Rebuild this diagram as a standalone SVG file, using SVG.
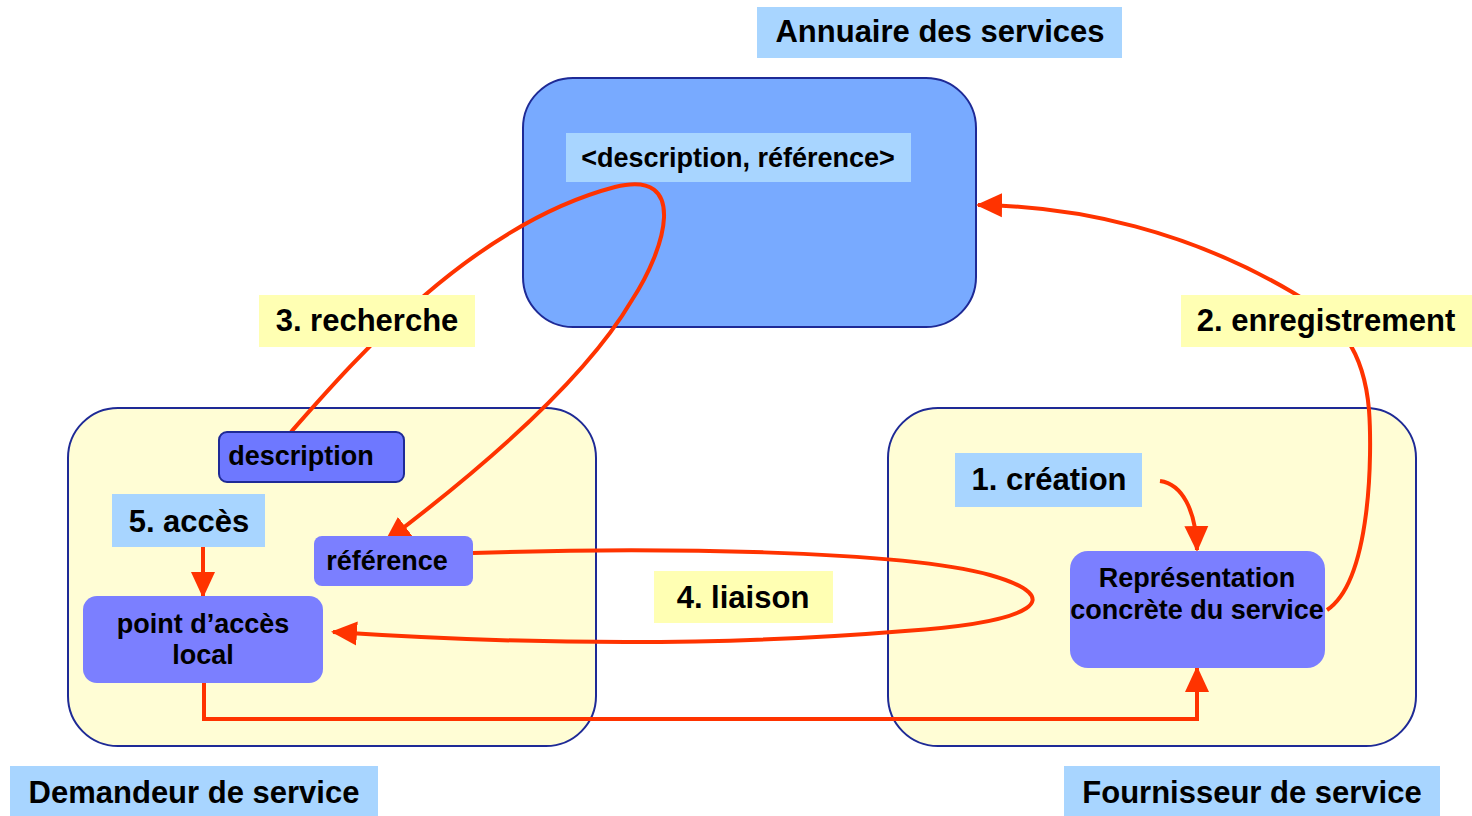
<svg xmlns="http://www.w3.org/2000/svg" width="1472" height="816" viewBox="0 0 1472 816">
<defs>
<style>
.t{font-family:"Liberation Sans",Arial,sans-serif;font-weight:bold;fill:#000;text-anchor:middle}
.big{font-size:31px}
.mid{font-size:27px}
.lblue{fill:#A8D5FF}
.lyel{fill:#FFFFB3}
.cont{fill:#FFFDD5;stroke:#1E2A96;stroke-width:2}
.node{fill:#7B7FFF}
.c{fill:none;stroke:#FF3300;stroke-width:4}
</style>
<marker id="ah" markerUnits="userSpaceOnUse" markerWidth="26" markerHeight="26" viewBox="0 0 26 26" refX="24" refY="13" orient="auto">
<path d="M0,1 L26,13 L0,25 Z" fill="#FF3300"/>
</marker>
</defs>
<rect width="1472" height="816" fill="#fff"/>

<g id="annuaire">
<rect x="523" y="78" width="453" height="249" rx="50" fill="#78AAFF" stroke="#1E2A96" stroke-width="2"/>
<rect x="566" y="133" width="345" height="49" class="lblue"/>
<text x="738" y="167" class="t mid">&lt;description, référence&gt;</text>
</g>
<g id="annuaire-label">
<rect x="757" y="7" width="365" height="51" class="lblue"/>
<text x="940" y="42" class="t big">Annuaire des services</text>
</g>

<g id="demandeur">
<rect x="68" y="408" width="528" height="338" rx="50" class="cont"/>
</g>
<g id="fournisseur">
<rect x="888" y="408" width="528" height="338" rx="50" class="cont"/>
</g>

<g id="connectors">
<path class="c" d="M291,432 C350,365 470,225 615,187 C690,168 665,250 632,300 C585,380 480,470 386,541" marker-end="url(#ah)"/>
<path class="c" d="M1327,610 C1372,580 1372,450 1369,410 C1364,350 1340,320 1292,292 C1190,232 1080,206 978,205" marker-end="url(#ah)"/>
<path class="c" d="M1160,481 C1182,484 1196,510 1197,550" marker-end="url(#ah)"/>
<path class="c" d="M473,553 C650,547 900,550 990,575 C1070,598 1035,622 905,631 C700,648 500,643 333,632" marker-end="url(#ah)"/>
<path class="c" d="M203,547 L203,596" marker-end="url(#ah)"/>
<path class="c" d="M204,683 L204,719 L1197,719 L1197,668" marker-end="url(#ah)"/>
</g>

<g id="description">
<rect x="219" y="432" width="185" height="50" rx="8" fill="#6E78FF" stroke="#1E2A96" stroke-width="2"/>
<text x="301" y="465" class="t mid">description</text>
</g>
<g id="reference">
<rect x="314" y="536" width="159" height="50" rx="8" class="node"/>
<text x="387" y="570" class="t mid">référence</text>
</g>
<g id="point-acces">
<rect x="83" y="596" width="240" height="87" rx="14" class="node"/>
<text x="203" y="633" class="t mid">point d’accès</text>
<text x="203" y="664" class="t mid">local</text>
</g>
<g id="representation">
<rect x="1070" y="551" width="255" height="117" rx="18" class="node"/>
<text x="1197" y="587" class="t mid">Représentation</text>
<text x="1197" y="619" class="t mid">concrète du service</text>
</g>

<g id="label-acces">
<rect x="112" y="494" width="153" height="53" class="lblue"/>
<text x="189" y="532" class="t big">5. accès</text>
</g>
<g id="label-creation">
<rect x="955" y="453" width="187" height="54" class="lblue"/>
<text x="1049" y="490" class="t big">1. création</text>
</g>
<g id="label-recherche">
<rect x="259" y="295" width="216" height="52" class="lyel"/>
<text x="367" y="331" class="t big">3. recherche</text>
</g>
<g id="label-enregistrement">
<rect x="1181" y="295" width="291" height="52" class="lyel"/>
<text x="1326" y="331" class="t big">2. enregistrement</text>
</g>
<g id="label-liaison">
<rect x="654" y="571" width="179" height="52" class="lyel"/>
<text x="743" y="608" class="t big">4. liaison</text>
</g>
<g id="demandeur-label">
<rect x="10" y="766" width="368" height="50" class="lblue"/>
<text x="194" y="803" class="t big">Demandeur de service</text>
</g>
<g id="fournisseur-label">
<rect x="1064" y="766" width="376" height="50" class="lblue"/>
<text x="1252" y="803" class="t big">Fournisseur de service</text>
</g>
</svg>
